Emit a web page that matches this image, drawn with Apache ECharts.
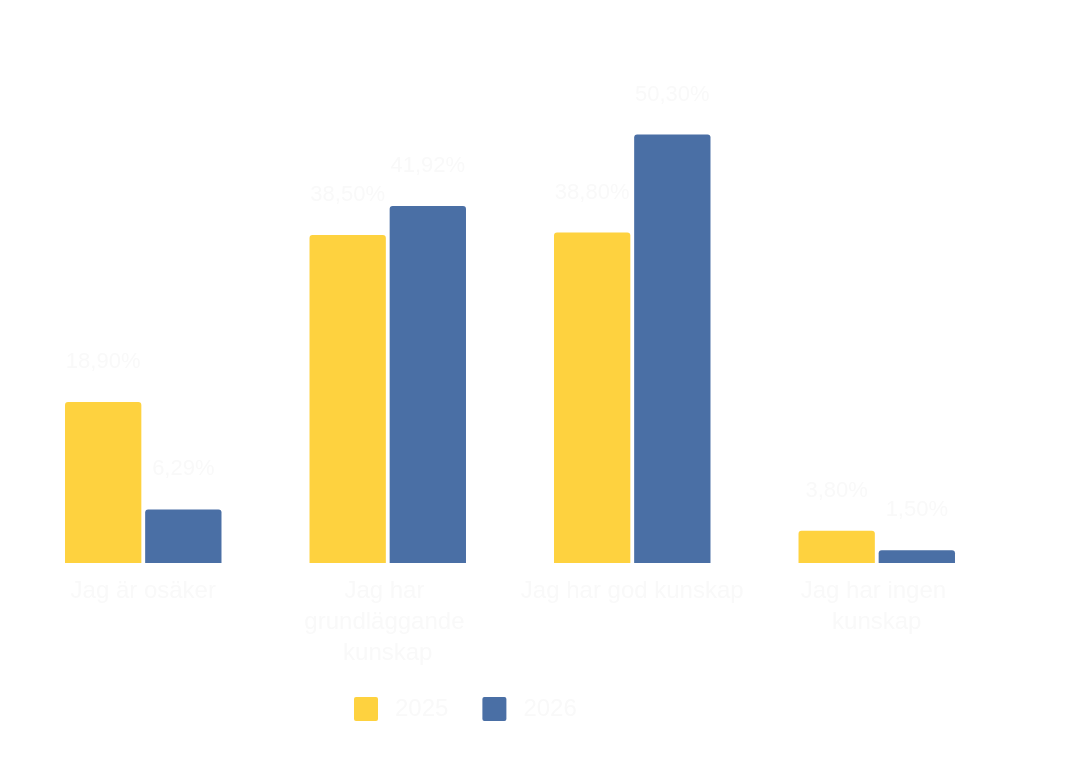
<!DOCTYPE html>
<html>
<head>
<meta charset="utf-8">
<script src="https://cdn.jsdelivr.net/npm/echarts@6/dist/echarts.min.js"></script>
<style>
  html, body { margin: 0; padding: 0; background: #ffffff; }
  #chart { width: 1081px; height: 762px; }
</style>
</head>
<body>
<div id="chart"></div>
<script>
// kategorier och värden (procent)
var categories = ['Jag är osäker', 'Jag har grundläggande kunskap', 'Jag har god kunskap', 'Jag har ingen kunskap'];
var seriesNames = ['2025', '2026'];
var values2025 = [18.90, 38.50, 38.80, 3.80];
var values2026 = [6.29, 41.92, 50.30, 1.50];

var textColor = '#f9f9f9';
var fontFamily = '"Liberation Sans", Arial, sans-serif';

var chart = echarts.init(document.getElementById('chart'));

// 38.5 -> "38,50%"
var fmt = function(p) {
	return p.value.toFixed(2).replace('.', ',') + '%';
};

var makeSeries = function(name, data, color) {
	return {
		name: name,
		type: 'bar',
		data: data,
		barGap: '5%',
		barCategoryGap: '36%',
		itemStyle: {
			color: color,
			borderRadius: [3, 3, 0, 0]
		},
		label: {
			show: true,
			position: 'top',
			distance: 29,
			formatter: fmt,
			color: textColor,
			fontSize: 22,
			fontFamily: fontFamily
		}
	};
};

// fyrkant med små rundade hörn
var legendIcon = 'path://M2,0 H22 A2,2 0 0 1 24,2 V22 A2,2 0 0 1 22,24 H2 A2,2 0 0 1 0,22 V2 A2,2 0 0 1 2,0 Z';

var option = {
	backgroundColor: '#ffffff',
	animation: false,
	legend: {
		data: seriesNames,
		left: 349,
		top: 692,
		itemWidth: 24,
		itemHeight: 24,
		itemGap: 34,
		icon: legendIcon,
		textStyle: {
			color: textColor,
			fontSize: 24,
			fontFamily: fontFamily,
			padding: [0, 0, 0, 12]
		}
	},
	grid: {
		left: 21,
		right: 82,
		top: 52,
		bottom: 199,
		containLabel: false
	},
	xAxis: {
		type: 'category',
		data: categories,
		axisLine: { show: false },
		axisTick: { show: false },
		axisLabel: {
			color: textColor,
			fontSize: 24,
			lineHeight: 31,
			margin: 13,
			fontFamily: fontFamily,
			width: 232,
			overflow: 'break',
			interval: 0
		}
	},
	yAxis: {
		type: 'value',
		min: 0,
		max: 60,
		show: false
	},
	series: [
		makeSeries(seriesNames[0], values2025, '#FED23F'),
		makeSeries(seriesNames[1], values2026, '#4A6FA5')
	]
};

chart.setOption(option);
</script>
</body>
</html>
